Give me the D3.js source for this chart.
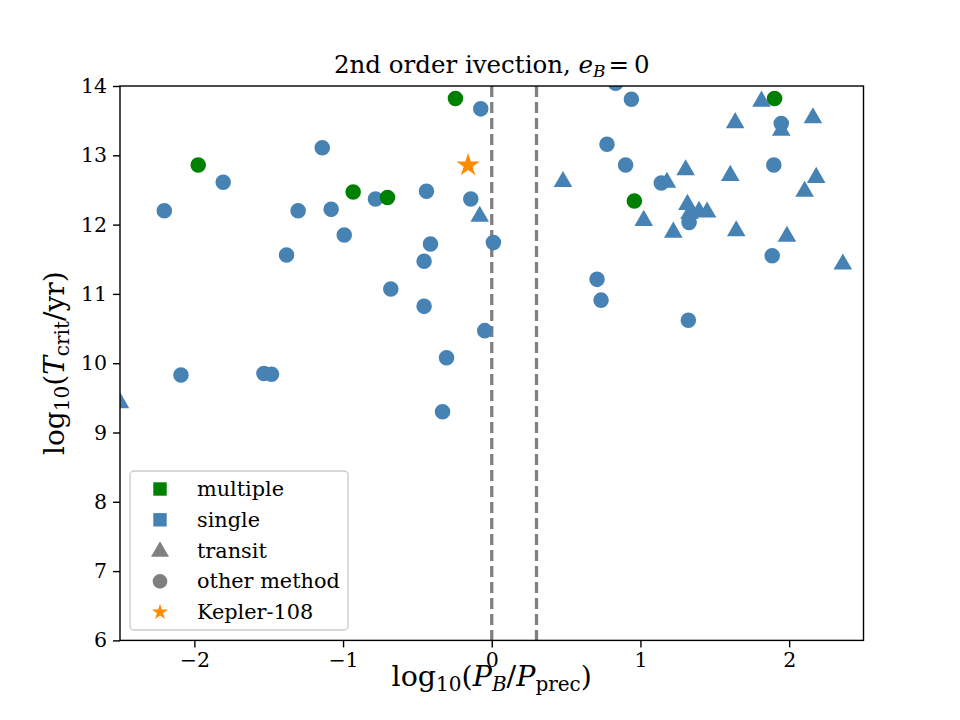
<!DOCTYPE html>
<html>
<head>
<meta charset="utf-8">
<script src="https://cdn.jsdelivr.net/npm/d3@7"></script>
<style>
  body { margin: 0; background: #fff; }
  text { font-family: "DejaVu Serif", serif; fill: #000; }
</style>
</head>
<body>
<div id="chart"></div>
<script>
// chart data: [log10(P_B/P_prec), log10(T_crit/yr)]
const multipleOther = [
    [-0.244, 13.82], [-1.974, 12.86], [-0.932, 12.47], [-0.701, 12.39], [0.959, 12.34], [1.902, 13.82]
];
const singleOther = [
    [-0.074, 13.67], [-1.140, 13.11], [-1.806, 12.61], [-0.439, 12.48], [-0.782, 12.37], [-0.141, 12.37],
    [-2.202, 12.20], [-1.302, 12.20], [-1.080, 12.22], [-0.992, 11.85], [-0.412, 11.72], [0.011, 11.74],
    [-1.380, 11.56], [-0.455, 11.47], [-0.679, 11.07], [-0.455, 10.82], [-0.047, 10.47], [-0.304, 10.08],
    [-2.090, 9.83], [-1.532, 9.85], [-1.481, 9.84], [-0.331, 9.30], [0.833, 14.04], [0.939, 13.81],
    [1.947, 13.46], [0.775, 13.16], [0.900, 12.86], [1.897, 12.86], [1.140, 12.60], [1.327, 12.03],
    [1.886, 11.55], [0.708, 11.21], [0.735, 10.91], [1.322, 10.62]
];
const singleTransit = [
    [-0.081, 12.14], [-2.50, 9.45], [1.814, 13.80], [1.637, 13.49], [1.947, 13.38], [2.160, 13.56],
    [0.479, 12.64], [1.304, 12.81], [1.604, 12.73], [2.182, 12.70], [1.178, 12.63], [2.104, 12.50],
    [1.316, 12.31], [1.394, 12.21], [1.448, 12.20], [1.330, 12.18], [1.022, 12.08], [1.221, 11.91],
    [1.644, 11.93], [1.985, 11.85], [2.361, 11.45]
];
const kepler108 = [[-0.159, 12.87]];
const dashedX = [0, Math.log10(2)];
const xTicks = [-2, -1, 0, 1, 2];
const yTicks = [6, 7, 8, 9, 10, 11, 12, 13, 14];
const legendItems = [
    { label: "multiple", shape: "square", color: "green" },
    { label: "single", shape: "square", color: "steelblue" },
    { label: "transit", shape: "triangle", color: "gray" },
    { label: "other method", shape: "circle", color: "gray" },
    { label: "Kepler-108", shape: "star", color: "darkorange" }
];

const W = 960, H = 720;
const m = { left: 120, top: 86, right: 96.5, bottom: 79.6 };
const iw = W - m.left - m.right, ih = H - m.top - m.bottom;

const svg = d3.select("#chart").append("svg").attr("width", W).attr("height", H);
const x = d3.scaleLinear().domain([-2.5, 2.5]).range([0, iw]);
const y = d3.scaleLinear().domain([6, 14]).range([ih, 0]);

svg.append("defs").append("clipPath").attr("id", "clip")
    .append("rect").attr("width", iw).attr("height", ih);

const g = svg.append("g").attr("transform", `translate(${m.left},${m.top})`);
const plot = g.append("g").attr("clip-path", "url(#clip)");

// dashed lines
plot.selectAll("line.vline").data(dashedX).enter().append("line")
    .attr("class", "vline")
    .attr("x1", d => x(d)).attr("x2", d => x(d))
    .attr("y1", 0).attr("y2", ih)
    .attr("stroke", "gray").attr("stroke-width", 3.3)
    .attr("stroke-dasharray", "11,5");

const symTri = d3.symbol().type(d3.symbolTriangle).size(150);
const symCirc = d3.symbol().type(d3.symbolCircle).size(190);
const symStar = d3.symbol().type(d3.symbolStar).size(170);

function drawGroup(data, sym, color, dy) {
    plot.append("g").selectAll("path").data(data).enter().append("path")
        .attr("d", sym)
        .attr("transform", d => `translate(${x(d[0])},${y(d[1]) + (dy || 0)})`)
        .attr("fill", color);
}
drawGroup(singleTransit, symTri, "steelblue", 1.5);
drawGroup(singleOther, symCirc, "steelblue");
drawGroup(multipleOther, symCirc, "green");
drawGroup(kepler108, symStar, "darkorange", 1);

// axes
const xAxis = g.append("g").attr("transform", `translate(0,${ih})`)
    .call(d3.axisBottom(x).tickValues(xTicks).tickSize(7).tickPadding(5)
        .tickFormat(d => d < 0 ? "\u2212" + Math.abs(d) : d));
const yAxis = g.append("g")
    .call(d3.axisLeft(y).tickValues(yTicks).tickSize(7).tickPadding(6));
[xAxis, yAxis].forEach(a => {
    a.attr("font-family", null);
    a.select(".domain").remove();
    a.selectAll("line").attr("stroke", "#000").attr("stroke-width", 1.4);
    a.selectAll("text").style("font-family", "DejaVu Serif").style("font-size", "20.5px").attr("fill", "#000");
});

g.append("rect").attr("width", iw).attr("height", ih)
    .attr("fill", "none").attr("stroke", "#000").attr("stroke-width", 1.4);

// title
const title = svg.append("text").attr("x", m.left + iw / 2).attr("y", 73)
    .attr("text-anchor", "middle").style("font-size", "24.5px");
title.append("tspan").text("2nd order ivection, ");
title.append("tspan").style("font-style", "italic").text("e");
title.append("tspan").style("font-style", "italic").style("font-size", "17px").attr("dy", 4).text("B");
title.append("tspan").attr("dy", -4).attr("dx", 3).text("=\u20090");

// axis labels
const xl = svg.append("text").attr("x", m.left + iw / 2).attr("y", 686)
    .attr("text-anchor", "middle").style("font-size", "28.5px");
xl.append("tspan").text("log");
xl.append("tspan").style("font-size", "20px").attr("dy", 5).text("10");
xl.append("tspan").attr("dy", -5).text("(");
xl.append("tspan").style("font-style", "italic").text("P");
xl.append("tspan").style("font-style", "italic").style("font-size", "20px").attr("dy", 5).text("B");
xl.append("tspan").attr("dy", -5).text("/");
xl.append("tspan").style("font-style", "italic").text("P");
xl.append("tspan").style("font-size", "20px").attr("dy", 5).text("prec");
xl.append("tspan").attr("dy", -5).text(")");

const yl = svg.append("text").attr("transform", `translate(64,${m.top + ih / 2}) rotate(-90)`)
    .attr("text-anchor", "middle").style("font-size", "28px");
yl.append("tspan").text("log");
yl.append("tspan").style("font-size", "20px").attr("dy", 5).text("10");
yl.append("tspan").attr("dy", -5).text("(");
yl.append("tspan").style("font-style", "italic").text("T");
yl.append("tspan").style("font-size", "20px").attr("dy", 5).text("crit");
yl.append("tspan").attr("dy", -5).text("/yr)");

// legend
const lg = g.append("g").attr("transform", "translate(10,385)");
lg.append("rect").attr("width", 218).attr("height", 159).attr("rx", 4)
    .attr("fill", "#fff").attr("fill-opacity", 0.8)
    .attr("stroke", "#cccccc").attr("stroke-width", 1.4);
const shapes = {
    square: d3.symbol().type(d3.symbolSquare).size(180),
    triangle: d3.symbol().type(d3.symbolTriangle).size(140),
    circle: d3.symbol().type(d3.symbolCircle).size(170),
    star: d3.symbol().type(d3.symbolStar).size(80)
};
const rows = lg.selectAll("g.row").data(legendItems).enter().append("g")
    .attr("class", "row")
    .attr("transform", (d, i) => `translate(0,${18 + i * 30.8})`);
rows.append("path").attr("d", d => shapes[d.shape]())
    .attr("transform", d => `translate(30,${d.shape === "triangle" ? 1 : 0})`)
    .attr("fill", d => d.color);
rows.append("text").attr("x", 67).attr("y", 7).style("font-size", "20.8px").text(d => d.label);
</script>
</body>
</html>
